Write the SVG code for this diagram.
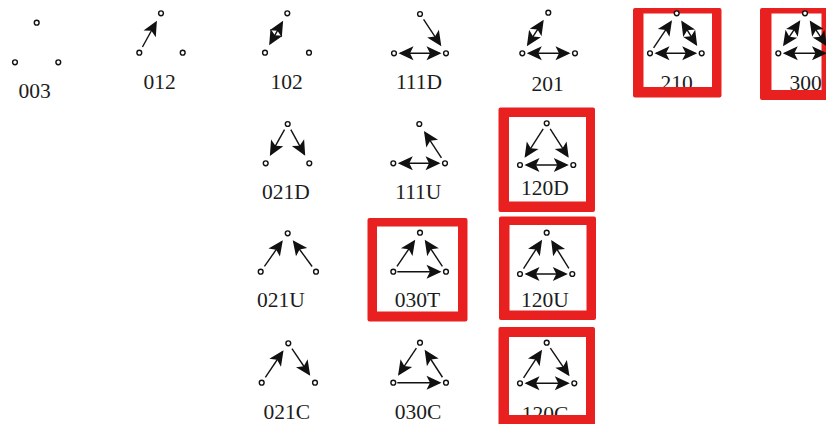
<svg xmlns="http://www.w3.org/2000/svg" width="826" height="424" viewBox="0 0 826 424">
  <defs>
    <style>
      .lbl { font-family: "Liberation Serif", "Times New Roman", serif; font-size: 21.5px; fill: #1c1c1c; text-anchor: middle; }
      .nd { fill: #fff; stroke: #111; stroke-width: 1.4; }
      .ed { fill: none; stroke: #111; stroke-width: 1.4; }
      .one { marker-end: url(#head); }
      .two { marker-start: url(#head); marker-end: url(#head); }
      .frame { fill: #e82020; fill-rule: evenodd; }
    </style>
    <!-- notched arrowhead, tip sits 2px past the path end -->
    <marker id="head" markerUnits="userSpaceOnUse" markerWidth="20" markerHeight="20" refX="0" refY="0" orient="auto-start-reverse" overflow="visible">
      <path d="M2,0 L-13,-7 L-9.5,0 L-13,7 Z" fill="#111"/>
    </marker>
  </defs>
  <rect width="826" height="424" fill="#fff"/>

  <!-- triad labels -->
  <g id="labels">
    <text class="lbl" x="34.5" y="98">003</text>
    <text class="lbl" x="159.5" y="89">012</text>
    <text class="lbl" x="286.7" y="89">102</text>
    <text class="lbl" x="419" y="89">111D</text>
    <text class="lbl" x="547.7" y="90.5">201</text>
    <text class="lbl" x="676.7" y="89.5">210</text>
    <text class="lbl" x="805.5" y="90">300</text>
    <text class="lbl" x="286" y="199">021D</text>
    <text class="lbl" x="418.3" y="199">111U</text>
    <text class="lbl" x="545" y="195">120D</text>
    <text class="lbl" x="281" y="307">021U</text>
    <text class="lbl" x="417.5" y="307">030T</text>
    <text class="lbl" x="545" y="306.5">120U</text>
    <text class="lbl" x="286.7" y="419">021C</text>
    <text class="lbl" x="418" y="419">030C</text>
    <text class="lbl" x="545" y="420.5">120C</text>
  </g>

  <!-- red highlight frames -->
  <g id="highlights">
    <path class="frame" d="M635,8 H719.5 Q721.5,8 721.5,10 V95.5 Q721.5,97.5 719.5,97.5 H635 Q633,97.5 633,95.5 V10 Q633,8 635,8 Z M643.5,13.5 V87 H712 V13.5 Z"/>
    <path class="frame" d="M762,8 H826 V100 H762 Q760,100 760,98 V10 Q760,8 762,8 Z M771.5,13.5 V90 H821.5 V13.5 Z"/>
    <path class="frame" d="M500.5,107.5 H593 Q595,107.5 595,109.5 V210 Q595,212 593,212 H500.5 Q498.5,212 498.5,210 V109.5 Q498.5,107.5 500.5,107.5 Z M509,117 V201.5 H586 V117 Z"/>
    <path class="frame" d="M501,216.5 H594 Q596,216.5 596,218.5 V318 Q596,320 594,320 H501 Q499,320 499,318 V218.5 Q499,216.5 501,216.5 Z M509.5,225 V310.5 H586.5 V225 Z"/>
    <path class="frame" d="M369.5,218 H465.5 Q467.5,218 467.5,220 V319.5 Q467.5,321.5 465.5,321.5 H369.5 Q367.5,321.5 367.5,319.5 V220 Q367.5,218 369.5,218 Z M377,226.5 V311.5 H458 V226.5 Z"/>
    <path class="frame" d="M500.5,327 H593 Q595,327 595,329 V430 H498.5 V329 Q498.5,327 500.5,327 Z M509,337 V415 H586 V337 Z"/>
  </g>

  <!-- directed ties -->
  <g id="connectors">
    <g id="e012"><line class="ed one" x1="142.44" y1="47.01" x2="155.93" y2="22.5"/></g>
    <g id="e102"><line class="ed two" x1="270.17" y1="43.56" x2="282.13" y2="22.44"/></g>
    <g id="e111D">
      <line class="ed one" x1="423.59" y1="19.42" x2="440.21" y2="44.54"/>
      <line class="ed two" x1="400.5" y1="53.3" x2="439.5" y2="53.3"/>
    </g>
    <g id="e201">
      <line class="ed two" x1="527.96" y1="44.46" x2="542.64" y2="21.54"/>
      <line class="ed two" x1="528.8" y1="53.3" x2="568.5" y2="53.3"/>
    </g>
    <g id="e210">
      <line class="ed one" x1="653.61" y1="47.89" x2="670.87" y2="22.03"/>
      <line class="ed two" x1="682.27" y1="22.2" x2="696.13" y2="44.4"/>
      <line class="ed two" x1="656.5" y1="53.3" x2="695.2" y2="53.3"/>
    </g>
    <g id="e300">
      <line class="ed two" x1="784.13" y1="44.57" x2="799.17" y2="22.03"/>
      <line class="ed two" x1="810.8" y1="22.05" x2="825.7" y2="44.55"/>
      <line class="ed two" x1="784.8" y1="53.3" x2="825" y2="53.3"/>
    </g>
    <g id="e021D">
      <line class="ed one" x1="284.52" y1="129.67" x2="270.83" y2="154.14"/>
      <line class="ed one" x1="290.83" y1="129.7" x2="304.24" y2="154.1"/>
    </g>
    <g id="e111U">
      <line class="ed one" x1="441.44" y1="157.86" x2="425.05" y2="132.79"/>
      <line class="ed two" x1="399.8" y1="163.3" x2="438.5" y2="163.3"/>
    </g>
    <g id="e120D">
      <line class="ed one" x1="543.2" y1="128.77" x2="525.66" y2="156.16"/>
      <line class="ed one" x1="550.2" y1="128.78" x2="567.65" y2="156.15"/>
      <line class="ed two" x1="526.5" y1="165" x2="566.8" y2="165"/>
    </g>
    <g id="e021U">
      <line class="ed one" x1="264.44" y1="266.38" x2="281.66" y2="241.89"/>
      <line class="ed one" x1="312.14" y1="266.47" x2="293.93" y2="241.75"/>
    </g>
    <g id="e030T">
      <line class="ed one" x1="396.97" y1="266.34" x2="414.07" y2="241.36"/>
      <line class="ed one" x1="442.39" y1="266.29" x2="425.82" y2="241.44"/>
      <line class="ed one" x1="397.3" y1="271.7" x2="439.5" y2="271.7"/>
    </g>
    <g id="e120U">
      <line class="ed one" x1="523.53" y1="268.54" x2="541" y2="241.52"/>
      <line class="ed one" x1="568.88" y1="268.47" x2="552.23" y2="241.63"/>
      <line class="ed two" x1="526.5" y1="274" x2="565.8" y2="274"/>
    </g>
    <g id="e021C">
      <line class="ed one" x1="265.34" y1="377.31" x2="282.43" y2="352"/>
      <line class="ed one" x1="291.95" y1="348.68" x2="309.11" y2="374.01"/>
    </g>
    <g id="e030C">
      <line class="ed one" x1="416.39" y1="348.11" x2="399.13" y2="373.97"/>
      <line class="ed one" x1="397.3" y1="382.7" x2="439.5" y2="382.7"/>
      <line class="ed one" x1="442.46" y1="377.25" x2="425.72" y2="351.5"/>
    </g>
    <g id="e120C">
      <line class="ed one" x1="523.57" y1="377.87" x2="540.93" y2="351.47"/>
      <line class="ed one" x1="550.35" y1="348.08" x2="568.4" y2="374.62"/>
      <line class="ed two" x1="526.5" y1="383.3" x2="567.8" y2="383.3"/>
    </g>
  </g>

  <!-- actor nodes of each triad -->
  <g id="t003"><circle class="nd" cx="36.7" cy="22.7" r="2.4"/><circle class="nd" cx="15" cy="62.3" r="2.4"/><circle class="nd" cx="58.3" cy="62.3" r="2.4"/></g>
  <g id="t012"><circle class="nd" cx="161" cy="13.3" r="2.4"/><circle class="nd" cx="139.3" cy="52.7" r="2.4"/><circle class="nd" cx="182.7" cy="52.7" r="2.4"/></g>
  <g id="t102"><circle class="nd" cx="287.3" cy="13.3" r="2.4"/><circle class="nd" cx="265" cy="52.7" r="2.4"/><circle class="nd" cx="309" cy="52.7" r="2.4"/></g>
  <g id="t111D"><circle class="nd" cx="420" cy="14" r="2.4"/><circle class="nd" cx="394" cy="53.3" r="2.4"/><circle class="nd" cx="446" cy="53.3" r="2.4"/></g>
  <g id="t201"><circle class="nd" cx="548.3" cy="12.7" r="2.4"/><circle class="nd" cx="522.3" cy="53.3" r="2.4"/><circle class="nd" cx="575" cy="53.3" r="2.4"/></g>
  <g id="t210"><circle class="nd" cx="676.7" cy="13.3" r="2.4"/><circle class="nd" cx="650" cy="53.3" r="2.4"/><circle class="nd" cx="701.7" cy="53.3" r="2.4"/></g>
  <g id="t300"><circle class="nd" cx="805" cy="13.3" r="2.4"/><circle class="nd" cx="778.3" cy="53.3" r="2.4"/><circle class="nd" cx="831.5" cy="53.3" r="2.4"/></g>
  <g id="t021D"><circle class="nd" cx="287.7" cy="124" r="2.4"/><circle class="nd" cx="265.7" cy="163.3" r="2.4"/><circle class="nd" cx="309.3" cy="163.3" r="2.4"/></g>
  <g id="t111U"><circle class="nd" cx="419.3" cy="124" r="2.4"/><circle class="nd" cx="393.3" cy="163.3" r="2.4"/><circle class="nd" cx="445" cy="163.3" r="2.4"/></g>
  <g id="t120D"><circle class="nd" cx="546.7" cy="123.3" r="2.4"/><circle class="nd" cx="520" cy="165" r="2.4"/><circle class="nd" cx="573.3" cy="165" r="2.4"/></g>
  <g id="t021U"><circle class="nd" cx="287.7" cy="233.3" r="2.4"/><circle class="nd" cx="260.7" cy="271.7" r="2.4"/><circle class="nd" cx="316" cy="271.7" r="2.4"/></g>
  <g id="t030T"><circle class="nd" cx="420" cy="232.7" r="2.4"/><circle class="nd" cx="393.3" cy="271.7" r="2.4"/><circle class="nd" cx="446" cy="271.7" r="2.4"/></g>
  <g id="t120U"><circle class="nd" cx="546.7" cy="232.7" r="2.4"/><circle class="nd" cx="520" cy="274" r="2.4"/><circle class="nd" cx="572.3" cy="274" r="2.4"/></g>
  <g id="t021C"><circle class="nd" cx="288.3" cy="343.3" r="2.4"/><circle class="nd" cx="261.7" cy="382.7" r="2.4"/><circle class="nd" cx="315" cy="382.7" r="2.4"/></g>
  <g id="t030C"><circle class="nd" cx="420" cy="342.7" r="2.4"/><circle class="nd" cx="393.3" cy="382.7" r="2.4"/><circle class="nd" cx="446" cy="382.7" r="2.4"/></g>
  <g id="t120C"><circle class="nd" cx="546.7" cy="342.7" r="2.4"/><circle class="nd" cx="520" cy="383.3" r="2.4"/><circle class="nd" cx="574.3" cy="383.3" r="2.4"/></g>
</svg>
